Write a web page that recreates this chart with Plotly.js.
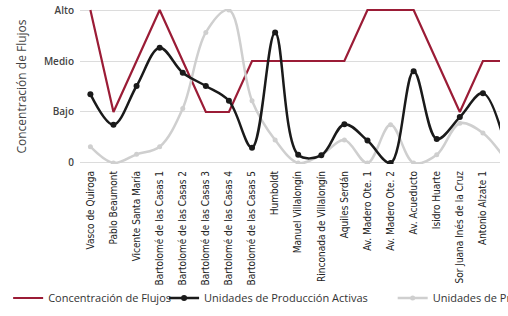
<!DOCTYPE html>
<html>
<head>
<meta charset="utf-8">
<script src="https://cdn.plot.ly/plotly-3.0.1.min.js"></script>
<style>html,body{margin:0;padding:0;background:#fff;}#chart{width:508px;height:316px;}</style>
</head>
<body>
<div id="chart"></div>
<script>
// Categories (the last one lies beyond the cropped right edge of the reference)
var categories = ["Vasco de Quiroga","Pablo Beaumont","Vicente Santa María","Bartolomé de las Casas 1","Bartolomé de las Casas 2","Bartolomé de las Casas 3","Bartolomé de las Casas 4","Bartolomé de las Casas 5","Humboldt","Manuel Villalongín","Rinconada de Villalongín","Aquiles Serdán","Av. Madero Ote. 1","Av. Madero Ote. 2","Av. Acueducto","Isidro Huarte","Sor Juana Inés de la Cruz","Antonio Alzate 1","Antonio Alzate 2"];
var concentracion = [3,1,2,3,2,1,1,2,2,2,2,2,3,3,3,2,1,2,2];
var activas = [1.35,0.75,1.51,2.26,1.77,1.51,1.22,0.30,2.56,0.16,0.15,0.76,0.44,0.0,1.8,0.47,0.9,1.37,0.3];
var unidades = [0.32,0.0,0.17,0.32,1.07,2.56,3.0,1.22,0.45,0.0,0.16,0.45,0.0,0.75,0.0,0.16,0.78,0.59,0.05];
var yTickVals = [0,1,2,3];
var yTickText = ["0","Bajo","Medio","Alto"];

var traces = [
  {x: categories, y: concentracion, name: "Concentración de Flujos", type: "scatter", mode: "lines",
   line: {color: "#9b1c36", width: 2.2}, legend: "legend"},
  {x: categories, y: unidades, name: "Unidades de Producción Inactivas", type: "scatter", mode: "lines+markers",
   line: {color: "#cfcfcf", width: 2.5, shape: "spline", smoothing: 1}, marker: {color: "#cfcfcf", size: 5},
   legend: "legend3"},
  {x: categories, y: activas, name: "Unidades de Producción Activas", type: "scatter", mode: "lines+markers",
   line: {color: "#1a1a1a", width: 2.5, shape: "spline", smoothing: 1}, marker: {color: "#1a1a1a", size: 6},
   legend: "legend2"}
];

var legFont = {family: "Open Sans", size: 11, color: "#333"};
function leg(xc) {
  return {orientation: "h", xref: "container", yref: "container", x: xc, xanchor: "left",
          y: 0.057, yanchor: "middle", font: legFont, bgcolor: "rgba(255,255,255,0)", itemwidth: 30};
}

var layout = {
  width: 508, height: 316,
  margin: {l: 80, r: 8, t: 9, b: 152},
  paper_bgcolor: "#fff", plot_bgcolor: "#fff",
  showlegend: true,
  legend: leg(0.016),
  legend2: leg(0.323),
  legend3: leg(0.773),
  xaxis: {type: "category", range: [-0.45, 17.74], tickangle: -90, showgrid: false, zeroline: false,
          showline: false, ticks: "", automargin: false, ticklabelstandoff: 4,
          tickfont: {family: "DejaVu Sans Condensed", size: 10, color: "#222"}},
  yaxis: {range: [-0.02, 3.02], tickvals: yTickVals, ticktext: yTickText, showgrid: true,
          gridcolor: "#dcdcdc", gridwidth: 1, zeroline: false, showline: false, ticks: "",
          automargin: false, ticklabelstandoff: 5,
          tickfont: {family: "Open Sans", size: 10, color: "#444", weight: 600},
          title: {text: "Concentración de Flujos", standoff: 14,
                  font: {family: "Open Sans", size: 12, color: "#444"}}}
};
Plotly.newPlot("chart", traces, layout, {displayModeBar: false, staticPlot: true});
</script>
</body>
</html>
